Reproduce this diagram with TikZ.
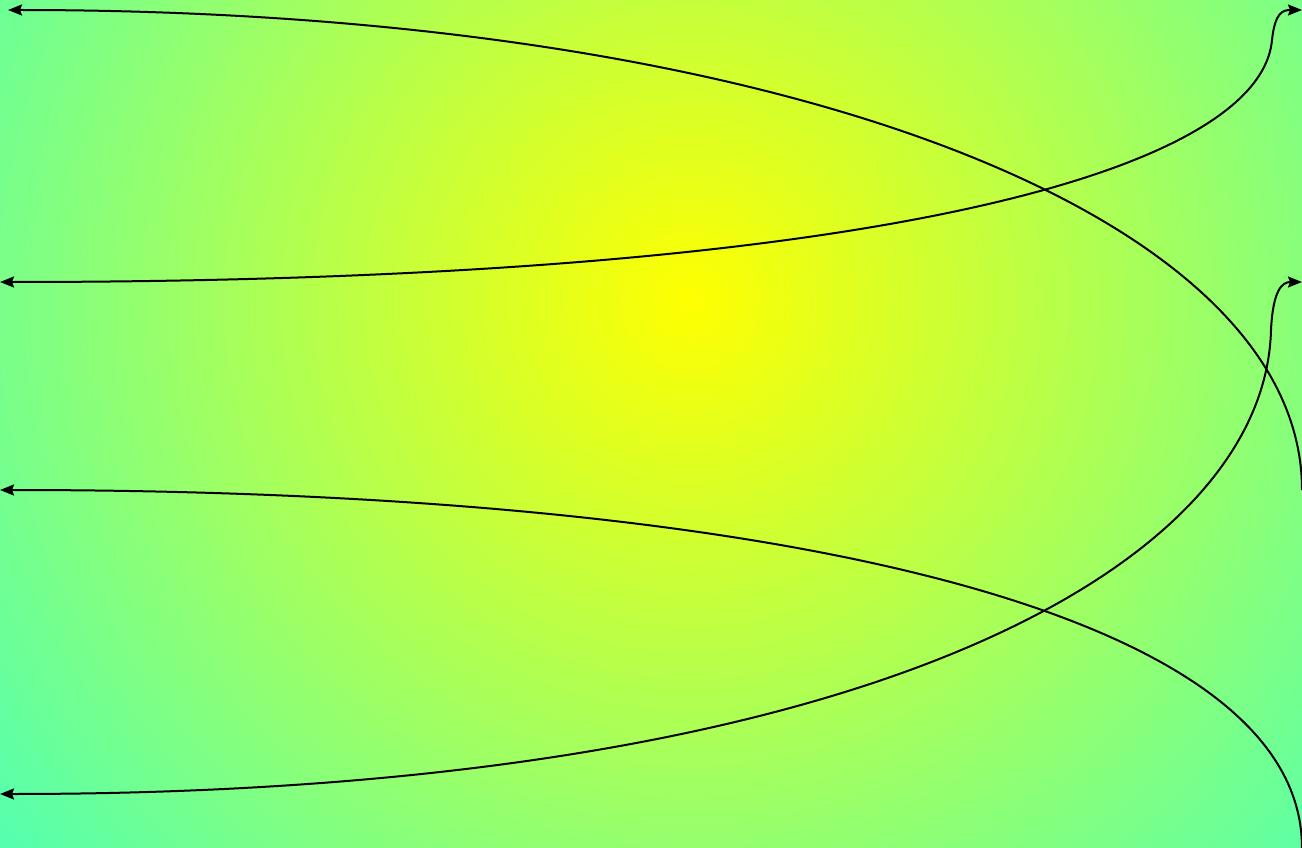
\documentclass[tikz,border=0pt]{standalone}
\usetikzlibrary{arrows.meta}
\definecolor{aqcol}{RGB}{80,255,180}
\pgfdeclareradialshading{bgshade}{\pgfpoint{0bp}{0bp}}{color(0bp)=(yellow); color(25bp)=(aqcol); color(50bp)=(aqcol)}
\tikzset{
  conn/.style={draw=black, line width=2pt},
  tipend/.style={-{Stealth[length=14pt,width=11pt,inset=2pt]}},
  tipstart/.style={{Stealth[length=14pt,width=11pt,inset=2pt]}-},
  tipboth/.style={{Stealth[length=14pt,width=11pt,inset=2pt]}-{Stealth[length=14pt,width=11pt,inset=2pt]}}
}
\begin{document}
\begin{tikzpicture}[x=1pt,y=-1pt]
\useasboundingbox (0,0) rectangle (1302,848);
\begin{scope}
\clip (0,0) rectangle (1302,848);
\shade[shading=bgshade] (-210,-600) rectangle (1590,1200);
\end{scope}
% named end points
\coordinate (a1) at (1302,490);
\coordinate (b1) at (8,10);
\coordinate (a2) at (0,282);
\coordinate (m2) at (1272,40);
\coordinate (b2) at (1302,10);
\coordinate (a3) at (0,490);
\coordinate (b3) at (1302,848);
\coordinate (a4) at (0,794);
\coordinate (m4) at (1271,330);
\coordinate (b4) at (1302,282);
\begin{scope}
\clip (0,0) rectangle (1302,848);
\draw[conn,tipend] (a1) .. controls (1302,215) and (780,10) .. (b1);
\draw[conn,tipboth] (a2) .. controls (880,282) and (1260,170) .. (m2) .. controls (1275,12) and (1283,10) .. (b2);
\draw[conn,tipstart] (a3) .. controls (765,490) and (1302,608) .. (b3);
\draw[conn,tipboth] (a4) .. controls (870,794) and (1265,565) .. (m4) .. controls (1273,290) and (1282,282) .. (b4);
\end{scope}
\end{tikzpicture}
\end{document}
